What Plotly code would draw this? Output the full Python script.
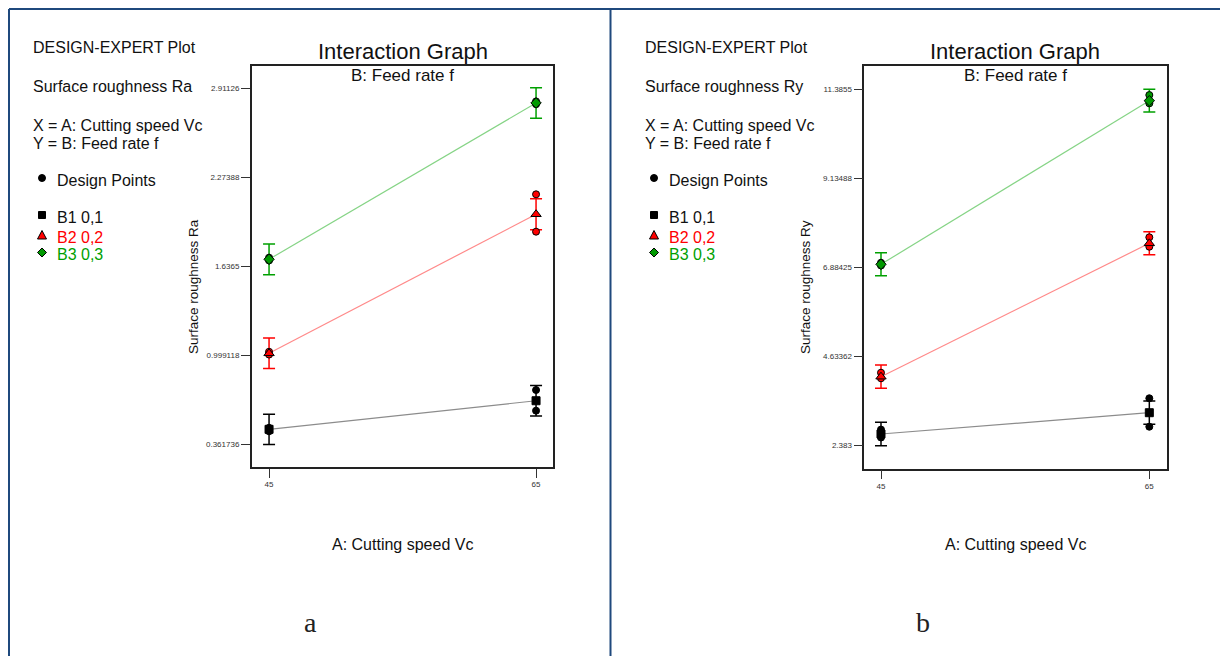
import plotly.graph_objects as go

W, H = 1220, 656

# ---------------- data ----------------
speeds = [45, 65]
group_names = ["B1 0,1", "B2 0,2", "B3 0,3"]
point_x = [45, 45, 65, 65]

# Panel a: Surface roughness Ra
ra_tickvals = [0.361736, 0.999118, 1.6365, 2.27388, 2.91126]
ra_ticktext = ["0.361736", "0.999118", "1.6365", "2.27388", "2.91126"]
ra_b1_mean = [0.469, 0.674]
ra_b2_mean = [1.014, 2.011]
ra_b3_mean = [1.688, 2.809]
ra_b1_err = [0.109, 0.109]
ra_b2_err = [0.109, 0.111]
ra_b3_err = [0.110, 0.109]
ra_b1_points = [0.455, 0.480, 0.751, 0.603]
ra_b2_points = [1.025, 1.005, 2.154, 1.886]
ra_b3_points = [1.700, 1.680, 2.820, 2.800]

# Panel b: Surface roughness Ry
ry_tickvals = [2.383, 4.63362, 6.88425, 9.13488, 11.3855]
ry_ticktext = ["2.383", "4.63362", "6.88425", "9.13488", "11.3855"]
ry_b1_mean = [2.669, 3.207]
ry_b2_mean = [4.118, 7.491]
ry_b3_mean = [6.960, 11.097]
ry_b1_err = [0.295, 0.295]
ry_b2_err = [0.295, 0.291]
ry_b3_err = [0.290, 0.287]
ry_b1_points = [2.780, 2.580, 3.572, 2.853]
ry_b2_points = [4.219, 4.077, 7.643, 7.405]
ry_b3_points = [7.000, 6.930, 11.240, 11.030]

# ---------------- styles ----------------
line_cols = ["#8c8c8c", "#ff8a8a", "#86d486"]
err_cols = ["#000000", "#ff0000", "#00a000"]
fill_cols = ["#000000", "#ff0000", "#009900"]
mean_symbols = ["square", "triangle-up", "diamond"]
mean_sizes = [8, 9, 8]
FONT = "Liberation Sans, Arial, sans-serif"
FRAME = "#1f497d"


def px(x):
    return x / W


def py(y):
    return 1 - y / H


fig = go.Figure()


def add_panel(xa, ya, means, errs, points):
    for i in range(3):
        fig.add_trace(go.Scatter(
            x=speeds, y=means[i], mode="lines", xaxis=xa, yaxis=ya,
            line=dict(color=line_cols[i], width=1.2), showlegend=False,
            hoverinfo="skip",
            error_y=dict(type="data", array=errs[i], visible=True,
                         color=err_cols[i], thickness=1.5, width=6),
        ))
    for i in range(3):
        fig.add_trace(go.Scatter(
            x=point_x, y=points[i], mode="markers", xaxis=xa, yaxis=ya,
            marker=dict(symbol="circle", size=7, color=fill_cols[i],
                        line=dict(color="black", width=1)),
            showlegend=False,
        ))
    for i in range(3):
        fig.add_trace(go.Scatter(
            x=speeds, y=means[i], mode="markers", xaxis=xa, yaxis=ya,
            marker=dict(symbol=mean_symbols[i], size=mean_sizes[i],
                        color=fill_cols[i], line=dict(color="black", width=1)),
            showlegend=False, name=group_names[i],
        ))


add_panel("x", "y", [ra_b1_mean, ra_b2_mean, ra_b3_mean],
          [ra_b1_err, ra_b2_err, ra_b3_err],
          [ra_b1_points, ra_b2_points, ra_b3_points])
add_panel("x2", "y2", [ry_b1_mean, ry_b2_mean, ry_b3_mean],
          [ry_b1_err, ry_b2_err, ry_b3_err],
          [ry_b1_points, ry_b2_points, ry_b3_points])

tickfont = dict(family=FONT, size=8, color="#333333")
axis_common = dict(showgrid=False, zeroline=False, showline=True, mirror=True,
                   linecolor="#222222", linewidth=1.5, ticks="outside",
                   ticklen=9, tickwidth=1, tickcolor="#333333",
                   tickfont=tickfont)

fig.update_layout(
    width=W, height=H,
    margin=dict(l=0, r=0, t=0, b=0),
    paper_bgcolor="white", plot_bgcolor="white",
    showlegend=False,
    xaxis=dict(domain=[px(251.7), px(553)], range=[43.70, 66.27],
               tickvals=speeds, ticktext=["45", "65"], anchor="y",
               **axis_common),
    yaxis=dict(domain=[py(467), py(65.7)], range=[0.199, 3.076],
               tickvals=ra_tickvals, ticktext=ra_ticktext, anchor="x",
               **axis_common),
    xaxis2=dict(domain=[px(864.3), px(1167.3)], range=[43.755, 66.34],
                tickvals=speeds, ticktext=["45", "65"], anchor="y2",
                **axis_common),
    yaxis2=dict(domain=[py(468.7), py(66)], range=[1.791, 11.975],
                tickvals=ry_tickvals, ticktext=ry_ticktext, anchor="x2",
                **axis_common),
)

shapes = []
# outer frame lines
shapes.append(dict(type="line", xref="paper", yref="paper", x0=px(9), x1=px(1220),
                   y0=py(9), y1=py(9), line=dict(color=FRAME, width=2)))
shapes.append(dict(type="line", xref="paper", yref="paper", x0=px(9), x1=px(9),
                   y0=py(9), y1=py(656), line=dict(color=FRAME, width=2)))
shapes.append(dict(type="line", xref="paper", yref="paper", x0=px(610.5), x1=px(610.5),
                   y0=py(9), y1=py(656), line=dict(color=FRAME, width=2)))

annotations = []


def text(x, y, s, size=15, color="#111111", xanchor="left", family=FONT, angle=0):
    annotations.append(dict(xref="paper", yref="paper", x=px(x), y=py(y), text=s,
                            showarrow=False, xanchor=xanchor, yanchor="middle",
                            textangle=angle, borderpad=0,
                            font=dict(family=family, size=size, color=color)))


for off, resp, ytitle, cx, ylab_x, letter, letter_x in [
        (0, "Surface roughness Ra", "Surface roughness Ra", 402.5, 193, "a", 310),
        (612, "Surface roughness Ry", "Surface roughness Ry", 1015, 805, "b", 923)]:
    text(32 + off, 48, "DESIGN-EXPERT Plot", size=16)
    text(32 + off, 87, resp, size=16)
    text(32 + off, 125, "X = A: Cutting speed Vc", size=16)
    text(32 + off, 143, "Y = B: Feed rate f", size=16)
    text(56 + off, 181, "Design Points", size=16)
    text(56 + off, 218, group_names[0], size=16, color="#111111")
    text(56 + off, 237, group_names[1], size=16, color="#ff0000")
    text(56 + off, 255, group_names[2], size=16, color="#00a000")
    # legend glyphs
    gx = 42 + off
    shapes.append(dict(type="circle", xref="paper", yref="paper",
                       x0=px(gx - 3.5), x1=px(gx + 3.5), y0=py(178 + 3.5), y1=py(178 - 3.5),
                       fillcolor="black", line=dict(color="black", width=1)))
    shapes.append(dict(type="rect", xref="paper", yref="paper",
                       x0=px(gx - 3.5), x1=px(gx + 3.5), y0=py(215 + 3.5), y1=py(215 - 3.5),
                       fillcolor="black", line=dict(color="black", width=1)))
    shapes.append(dict(type="path", xref="paper", yref="paper",
                       path=f"M {px(gx - 4.5)},{py(239)} L {px(gx + 4.5)},{py(239)} L {px(gx)},{py(230.5)} Z",
                       fillcolor="#ff0000", line=dict(color="black", width=1)))
    shapes.append(dict(type="path", xref="paper", yref="paper",
                       path=f"M {px(gx - 4.5)},{py(252.5)} L {px(gx)},{py(248)} L {px(gx + 4.5)},{py(252.5)} L {px(gx)},{py(257)} Z",
                       fillcolor="#009900", line=dict(color="black", width=1)))
    # titles
    text(cx, 51, "Interaction Graph", size=22, xanchor="center")
    text(cx, 75, "B: Feed rate f", size=17, xanchor="center")
    text(cx, 544, "A: Cutting speed Vc", size=16, xanchor="center")
    text(ylab_x, 287, ytitle, size=13.5, xanchor="center", angle=-90)
    text(letter_x, 622, letter, size=28, xanchor="center",
         family="Liberation Serif, Times New Roman, serif", color="#222222")

fig.update_layout(shapes=shapes, annotations=annotations)

fig.write_html("out.html", config={"displayModeBar": False},
               post_script="document.body.style.margin='0';document.body.style.overflow='hidden';")
